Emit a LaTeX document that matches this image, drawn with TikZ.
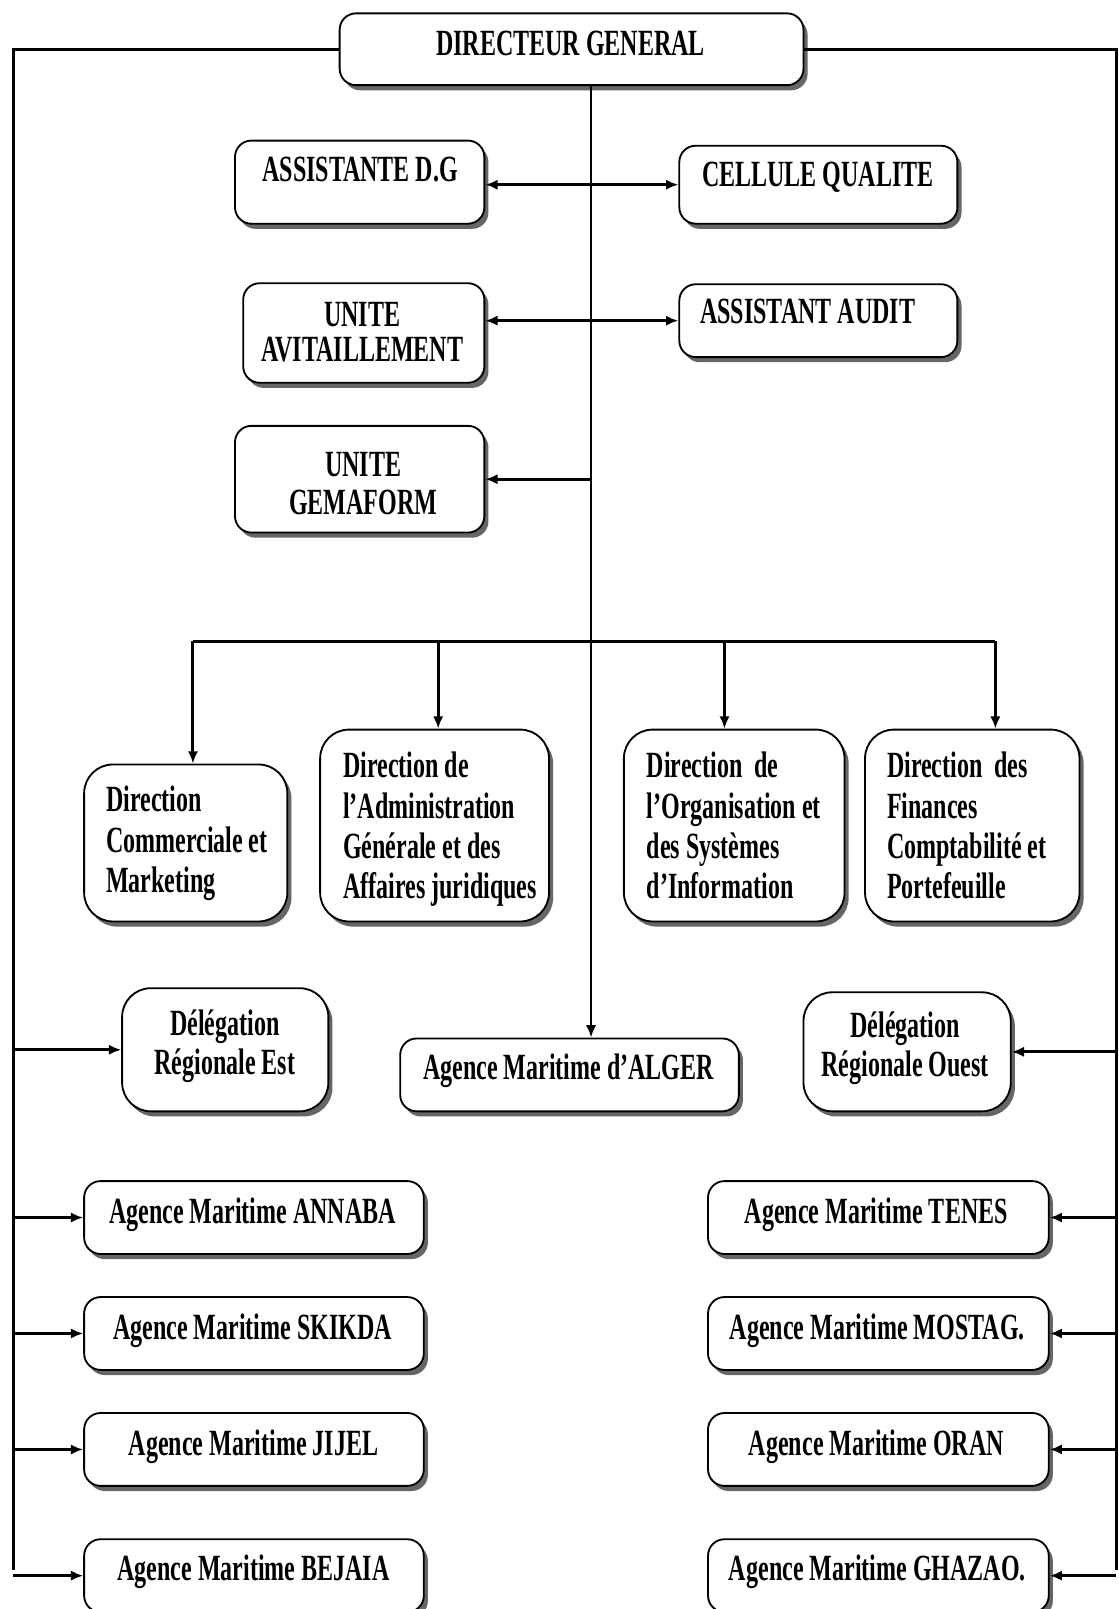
\documentclass[tikz,border=0pt]{standalone}
\usepackage{fontspec}
\setmainfont{Liberation Serif}[FakeStretch=0.65]
\usetikzlibrary{arrows.meta,shadows}

\begin{document}
\begin{tikzpicture}[x=0.5pt,y=-0.5pt,
  box/.style={draw=black, line width=0.9pt, fill=white, rounded corners=8pt,
    inner sep=0pt,
    drop shadow={shadow xshift=2pt, shadow yshift=-2.5pt, fill=black!75, opacity=0.8}},
  sz/.style 2 args={minimum width=#1*0.5pt, minimum height=#2*0.5pt},
  roundbox/.style={box, rounded corners=14pt},
  lbl/.style={font=\bfseries\fontsize{18}{20}\selectfont, inner sep=0pt, anchor=base},
  mlbl/.style={lbl, align=center, font=\bfseries\fontsize{18}{#1}\selectfont},
  dlbl/.style={lbl, align=left, anchor=base west, font=\bfseries\fontsize{18}{19.7}\selectfont},
  conn/.style={line width=1.5pt},
  tip/.style={},
  arr/.style={conn, -{Latex[length=6pt,width=5pt]}},
  darr/.style={conn, {Latex[length=6pt,width=5pt]}-{Latex[length=6pt,width=5pt]}},
]
\fill[white] (0,0) rectangle (1090,1568);
\useasboundingbox (0,0) rectangle (1090,1568);

% ---- boxes (multi-line labels are placed by the baseline of their last line) ----
\node[box, sz={452}{70}] (dg) at (557,48) {};
\node[lbl] (dgt) at (556,54) {DIRECTEUR GENERAL};

\node[box, sz={243}{81}] (asdg) at (350.5,177.5) {};
\node[lbl] (asdgt) at (351,177) {ASSISTANTE D.G};
\node[box, sz={271}{76}] (cq) at (797.5,180) {};
\node[lbl] (cqt) at (797,182) {CELLULE QUALITE};

\node[box, sz={235}{97}] (uav) at (354.5,324.5) {};
\node[mlbl=17] (uavt) at (353,352) {UNITE\\AVITAILLEMENT};
\node[box, sz={271}{71}] (aud) at (797.5,312.5) {};
\node[lbl] (audt) at (787,315) {ASSISTANT AUDIT};

\node[box, sz={243}{104}] (gem) at (350.5,467) {};
\node[mlbl=18.5] (gemt) at (354,501) {UNITE\\GEMAFORM};

\node[roundbox, sz={198}{153}] (dcm) at (181,821.5) {};
\node[dlbl] (dcmt) at (103,870) {Direction\\Commerciale et\\Marketing};
\node[roundbox, sz={223}{187}] (dag) at (423.5,804.5) {};
\node[dlbl] (dagt) at (334,876) {Direction de\\l’Administration\\Générale et des\\Affaires juridiques};
\node[roundbox, sz={215}{187}] (dos) at (715.5,804.5) {};
\node[dlbl] (dost) at (630,876) {Direction\ \ de\\l’Organisation et\\des Systèmes\\d’Information};
\node[roundbox, sz={209}{187}] (dfc) at (947.5,804.5) {};
\node[dlbl] (dfct) at (864,876) {Direction\ \ des\\Finances\\Comptabilité et\\Portefeuille};

\node[roundbox, sz={201}{120}] (dre) at (219.5,1023) {};
\node[mlbl=19] (dret) at (219,1047) {Délégation\\Régionale Est};
\node[box, sz={330}{71}] (alg) at (555,1047.5) {};
\node[lbl] (algt) at (554,1052) {Agence Maritime d’ALGER};
\node[roundbox, sz={202}{116}] (dro) at (884,1025) {};
\node[mlbl=19] (drot) at (882,1049) {Délégation\\Régionale Ouest};

\node[box, sz={331}{71}] (an) at (247.5,1186.5) {};
\node[lbl] (ant) at (246,1192) {Agence Maritime ANNABA};
\node[box, sz={331}{71}] (sk) at (247.5,1299.5) {};
\node[lbl] (skt) at (246,1305) {Agence Maritime SKIKDA};
\node[box, sz={331}{71}] (ji) at (247.5,1412.5) {};
\node[lbl] (jit) at (247,1418) {Agence Maritime JIJEL};
\node[box, sz={331}{71}] (be) at (247.5,1535.5) {};
\node[lbl] (bet) at (247,1540) {Agence Maritime BEJAIA};

\node[box, sz={332}{71}] (te) at (856,1186.5) {};
\node[lbl] (tet) at (854,1192) {Agence Maritime TENES};
\node[box, sz={332}{71}] (mo) at (856,1299.5) {};
\node[lbl] (mot) at (855,1305) {Agence Maritime MOSTAG.};
\node[box, sz={332}{71}] (or) at (856,1412.5) {};
\node[lbl] (ort) at (854,1418) {Agence Maritime ORAN};
\node[box, sz={332}{71}] (gh) at (856,1535.5) {};
\node[lbl] (ght) at (855,1540) {Agence Maritime GHAZAO.};

% ---- connectors ----
\coordinate (ctop) at (576,83);
\coordinate (lbus) at (13,1530);
\coordinate (rbus) at (1088,1530);
\coordinate (b1) at (188,625);
\coordinate (b2) at (427,625);
\coordinate (b3) at (706,625);
\coordinate (b4) at (970,625);

% central line from the director down to the Algiers agency
\draw[arr, line width=1.1pt] (ctop) -- (ctop |- alg.north);

% staff units
\draw[darr] (asdg.east |- cq.west) -- (cq.west);
\draw[darr] (uav.east |- aud.west) -- (aud.west);
\draw[arr] (gem.east -| ctop) -- (gem.east);

% directions
\draw[conn] (b1) -- (b4);
\draw[arr] (b1) -- (b1 |- dcm.north);
\draw[arr] (b2) -- (b2 |- dag.north);
\draw[arr] (b3) -- (b3 |- dos.north);
\draw[arr] (b4) -- (b4 |- dfc.north);

% eastern network (left side)
\draw[conn] (dg.west) -| (lbus);
\foreach \n in {dre,an,sk,ji,be}
  \draw[arr] (\n.west -| lbus) -- (\n.west);

% western network (right side)
\draw[conn] (dg.east) -| (rbus);
\foreach \n in {dro,te,mo,or,gh}
  \draw[arr] (\n.east -| rbus) -- (\n.east);
\end{tikzpicture}
\end{document}
